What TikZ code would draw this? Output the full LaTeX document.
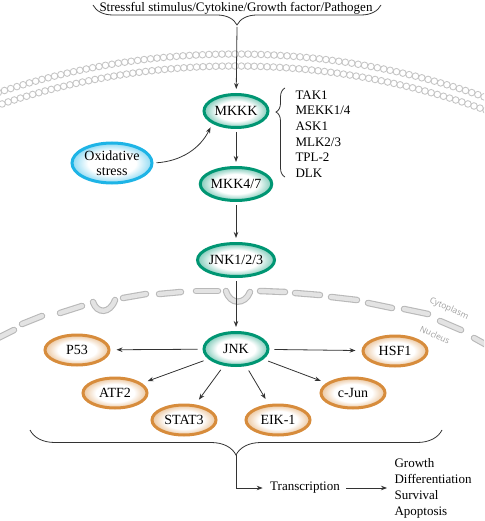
\documentclass[tikz,border=0pt]{standalone}
\usepackage{fontspec}
\setmainfont{Liberation Serif}
\newfontfamily\regionfont{Open Sans}
\usetikzlibrary{shapes.geometric, decorations.pathreplacing, arrows.meta}

\definecolor{jgreen}{RGB}{0,150,115}
\definecolor{oxblue}{RGB}{30,180,230}
\definecolor{tforange}{RGB}{215,140,60}
\pgfdeclareradialshading{greenglow}{\pgfpointorigin}{color(0bp)=(white); color(15bp)=(white); color(25bp)=(jgreen!50); color(50bp)=(jgreen!50)}
\pgfdeclareradialshading{blueglow}{\pgfpointorigin}{color(0bp)=(white); color(15bp)=(white); color(25bp)=(oxblue!50); color(50bp)=(oxblue!50)}
\pgfdeclareradialshading{orangeglow}{\pgfpointorigin}{color(0bp)=(white); color(15bp)=(white); color(25bp)=(tforange!50); color(50bp)=(tforange!50)}

\tikzset{
  kinase/.style={ellipse, draw=jgreen, line width=3pt, shading=greenglow, minimum width=64pt, minimum height=33pt, inner sep=0pt, font=\fontsize{14}{15}\selectfont},
  stressnode/.style={kinase, draw=oxblue, shading=blueglow, minimum width=80pt, minimum height=40pt, align=center},
  tfactor/.style={kinase, draw=tforange, shading=orangeglow, minimum height=30pt},
  lipid/.style={draw=gray!45, line width=0.9pt},
  nucdash/.style={draw=gray!55, double=gray!22, double distance=4.3pt, line width=1.1pt, line cap=round},
  sig/.style={->, draw=black!80, line width=0.8pt, shorten <=3pt, shorten >=4pt},
  curly/.style={decorate, draw=black!80, line width=0.8pt},
  region/.style={text=gray!75, inner sep=0pt, font=\regionfont\fontsize{8.5}{10}\selectfont}
}

\begin{document}
\begin{tikzpicture}[x=1pt, y=1pt, >={Stealth[length=6pt,width=4.5pt]}, font=\fontsize{13}{15.6}\selectfont]
\useasboundingbox (0,0) rectangle (484,-521);

% cell membrane and nuclear envelope
\begin{scope}
\clip (0,0) rectangle (484,-521);
\foreach \a in {-21,-20.5,...,21}{
  \draw[lipid] (235,-800) ++(\a+90:746) circle (3.3);
  \draw[lipid] (235,-800) ++(\a+90:734) circle (3.3);
}
\foreach \xa/\ya/\xb/\yb in {-6/340/14/330, 22/324/42/316, 60/313/82/306, 123/298/146/294, 159/294/181/292, 196/291/218/291, 260/291/285/292, 295/293/320/295, 331/297/357/300, 368/303/392/308, 404/309/428/314, 440/321/461/330, 474/338/492/348}
  \draw[nucdash] (\xa,-\ya) -- (\xb,-\yb);
\draw[nucdash] (93,-302) .. controls (97,-314) and (110,-314) .. (115,-300);
\draw[nucdash] (226,-291) .. controls (230,-305) and (245,-305) .. (250,-292);
\end{scope}
\node[region, rotate=-24] (cyto) at (449,-309) {Cytoplasm};
\node[region, rotate=-25] (nucl) at (435,-335) {Nucleus};

% signalling cascade
\node (stim) at (236,-8) {Stressful stimulus/Cytokine/Growth factor/Pathogen};
\draw[curly, decoration={brace, mirror, amplitude=20pt}] (93,-5) -- (381,-5);
\coordinate (toptip) at (237,-27);

\node[kinase] (mkkk) at (236,-111) {MKKK};
\node[kinase] (mkk) at (236,-184) {MKK4/7};
\node[kinase] (jnkabc) at (236,-260) {JNK1/2/3};
\node[kinase] (jnk) at (236,-349) {JNK};
\node[stressnode] (oxi) at (112,-163) {Oxidative\\stress};

\node[align=left, anchor=west] (iso) at (292,-134) {TAK1\\MEKK1/4\\ASK1\\MLK2/3\\TPL-2\\DLK};
\draw[curly, decoration={brace, mirror, amplitude=9pt, aspect=0.27}] (285,-88) -- (285,-177);

\node[tfactor] (p53) at (77,-350) {P53};
\node[tfactor] (hsf) at (395,-351) {HSF1};
\node[tfactor] (atf) at (115,-393) {ATF2};
\node[tfactor] (cjun) at (353,-393) {c-Jun};
\node[tfactor] (stat) at (184,-420) {STAT3};
\node[tfactor] (eik) at (278,-420) {EIK-1};

\draw[sig, shorten <=0pt] (toptip) -- (mkkk);
\draw[sig] (mkkk) -- (mkk);
\draw[sig] (mkk) -- (jnkabc);
\draw[sig] (jnkabc) -- (jnk);
\draw[sig] (oxi.east) to[bend right=30] (mkkk.south west);
\foreach \t in {p53,hsf,atf,cjun,stat,eik}
  \draw[sig, shorten <=5pt, shorten >=6pt] (jnk) -- (\t);

% outcome
\draw[curly, decoration={brace, mirror, amplitude=25pt}] (30,-430) -- (442,-430);
\coordinate (bottip) at (236,-455);
\node (trans) at (305,-488) {Transcription};
\node[align=left, anchor=west, font=\fontsize{13}{16}\selectfont] (fate) at (391,-488) {Growth\\Differentiation\\Survival\\Apoptosis};
\draw[sig, shorten <=0pt] (bottip) |- (trans.west);
\draw[sig] (trans.east) -- (fate.west);
\end{tikzpicture}
\end{document}
